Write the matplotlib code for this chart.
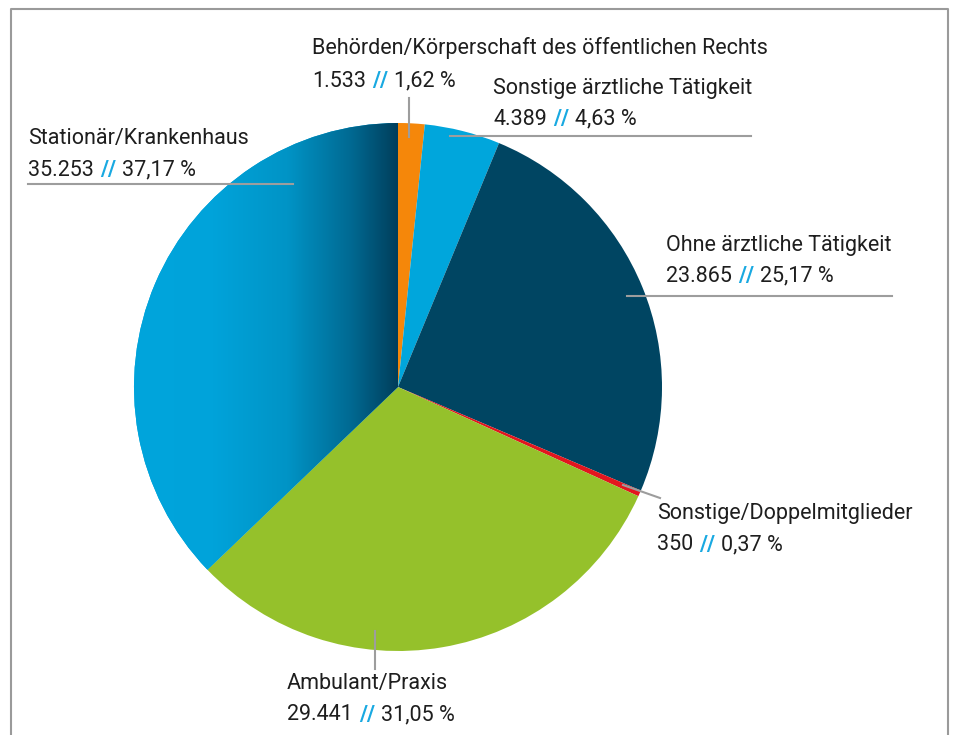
import matplotlib
matplotlib.use("Agg")
import matplotlib.pyplot as plt
from matplotlib.colors import LinearSegmentedColormap
import numpy as np

# data, clockwise from 12 o'clock
labels = ["Behörden/Körperschaft des öffentlichen Rechts",
          "Sonstige ärztliche Tätigkeit",
          "Ohne ärztliche Tätigkeit",
          "Sonstige/Doppelmitglieder",
          "Ambulant/Praxis",
          "Stationär/Krankenhaus"]
counts = ["1.533", "4.389", "23.865", "350", "29.441", "35.253"]
shares = [1.62, 4.63, 25.17, 0.37, 31.05, 37.17]
colors = ["#F5870A", "#00A6DC", "#004562", "#E3161E", "#95C12B", "#00A5DC"]

W, H = 961, 735
plt.rcParams['font.family'] = ['Roboto', 'DejaVu Sans']

fig = plt.figure(figsize=(W / 100, H / 100), dpi=100)
ax = fig.add_axes([0, 0, 1, 1])


def py(y):
    # image pixel row -> data y
    return H - y


cx, cy, r = 398, 387, 264
wedges, _ = ax.pie(shares, colors=colors, startangle=90, counterclock=False,
                   center=(cx, py(cy)), radius=r, frame=True,
                   wedgeprops=dict(linewidth=0))
ax.set_xlim(0, W)
ax.set_ylim(0, H)
ax.set_aspect('auto')
ax.axis('off')

# gradient fill for the Stationär wedge
grad_cmap = LinearSegmentedColormap.from_list(
    "stat", [(0, "#00A5DC"), (0.3, "#00A3DA"), (0.58, "#0094C6"),
             (0.82, "#006A93"), (1.0, "#003E5B")])
g = np.linspace(0, 1, 256).reshape(1, -1)
img = ax.imshow(g, cmap=grad_cmap, extent=(cx - r, cx, py(cy + r), py(cy - r)),
                aspect='auto', zorder=wedges[5].get_zorder() + 0.1)
img.set_clip_path(wedges[5])

# frame around the chart
frame_col = "#9a9a9a"
ax.plot([11, 11, 948, 948], [py(H + 5), py(9), py(9), py(H + 5)],
        color=frame_col, lw=1.5, clip_on=False)

line_col = "#9d9d9d"
leaders = [
    [(409, 98), (409, 137)],
    [(450, 136), (751, 136)],
    [(627, 296), (892, 296)],
    [(623, 485), (660, 498)],
    [(375, 631), (375, 669)],
    [(28, 184), (293, 184)],
]
for (x0, y0), (x1, y1) in leaders:
    ax.plot([x0, x1], [py(y0), py(y1)], color=line_col, lw=1.5, zorder=10)

# label anchors: left x, centre of first line, centre of second line
text_pos = [(312, 48, 81), (493, 88, 119), (666, 245, 276),
            (657, 513, 545), (287, 683, 715), (28, 138, 170)]

fs = 15.5
tcol = "#1e1e1e"
blue = "#19A9E1"
for lab, cnt, sh, (tx, ty1, ty2) in zip(labels, counts, shares, text_pos):
    ax.text(tx, py(ty1), lab, fontsize=fs, fontweight='normal', color=tcol,
            ha='left', va='center')
    t1 = ax.text(tx, py(ty2), cnt, fontsize=fs, fontweight='normal', color=tcol,
                 ha='left', va='center')
    t2 = ax.annotate("//", xy=(1, 0), xycoords=t1, xytext=(4.5, 0),
                     textcoords='offset points', fontsize=fs, fontweight='bold',
                     color=blue, ha='left', va='bottom')
    pct = f"{sh:.2f}".replace(".", ",") + " %"
    ax.annotate(pct, xy=(1, 0), xycoords=t2, xytext=(4, 0),
                textcoords='offset points', fontsize=fs, fontweight='normal',
                color=tcol, ha='left', va='bottom')

fig.savefig("out.png", dpi=100)
